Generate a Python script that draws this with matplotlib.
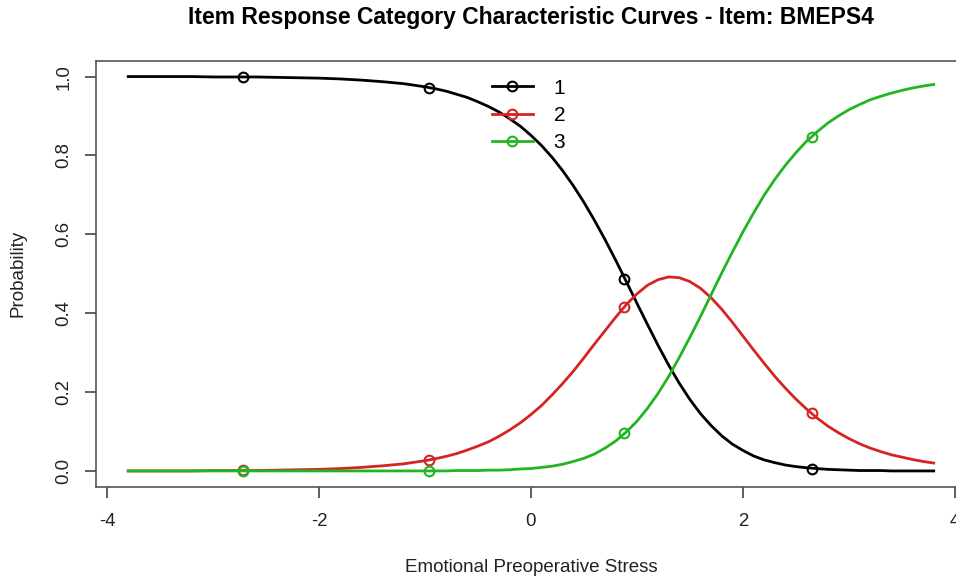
import matplotlib
matplotlib.use("Agg")
import matplotlib.pyplot as plt
from matplotlib.lines import Line2D

# ability grid
theta = [-3.8, -3.6, -3.4, -3.2, -3.0, -2.8, -2.6, -2.4, -2.2, -2.0,
         -1.8, -1.6, -1.4, -1.2,
         -1.0, -0.9, -0.8, -0.7, -0.6, -0.5, -0.4, -0.3, -0.2, -0.1,
         0.0, 0.1, 0.2, 0.3, 0.4, 0.5, 0.6, 0.7, 0.8, 0.9,
         1.0, 1.1, 1.2, 1.3, 1.4, 1.5, 1.6, 1.7, 1.8, 1.9,
         2.0, 2.1, 2.2, 2.3, 2.4, 2.5, 2.6, 2.7, 2.8, 2.9,
         3.0, 3.1, 3.2, 3.3, 3.4, 3.5, 3.6, 3.7, 3.8]

cat1 = [1.000, 1.000, 1.000, 1.000, 0.999, 0.999, 0.999, 0.998, 0.997, 0.996,
        0.994, 0.991, 0.987, 0.982,
        0.974, 0.969, 0.963, 0.955, 0.947, 0.936, 0.924, 0.910, 0.893, 0.874,
        0.851, 0.825, 0.795, 0.761, 0.723, 0.681, 0.635, 0.586, 0.534, 0.480,
        0.425, 0.371, 0.318, 0.268, 0.222, 0.181, 0.145, 0.115, 0.089, 0.068,
        0.052, 0.038, 0.028, 0.021, 0.015, 0.011, 0.008, 0.006, 0.004, 0.003,
        0.002, 0.001, 0.001, 0.001, 0.000, 0.000, 0.000, 0.000, 0.000]

cat2 = [0.000, 0.000, 0.000, 0.000, 0.001, 0.001, 0.001, 0.002, 0.003, 0.004,
        0.006, 0.009, 0.013, 0.018,
        0.026, 0.031, 0.037, 0.044, 0.053, 0.063, 0.074, 0.088, 0.104, 0.122,
        0.143, 0.166, 0.193, 0.222, 0.253, 0.287, 0.322, 0.356, 0.390, 0.422,
        0.449, 0.471, 0.485, 0.492, 0.490, 0.480, 0.463, 0.439, 0.410, 0.377,
        0.342, 0.307, 0.273, 0.240, 0.210, 0.182, 0.157, 0.134, 0.114, 0.097,
        0.082, 0.069, 0.058, 0.049, 0.041, 0.035, 0.029, 0.024, 0.020]

cat3 = [0.000, 0.000, 0.000, 0.000, 0.000, 0.000, 0.000, 0.000, 0.000, 0.000,
        0.000, 0.000, 0.000, 0.000,
        0.000, 0.000, 0.000, 0.001, 0.001, 0.001, 0.002, 0.002, 0.003, 0.005,
        0.006, 0.009, 0.012, 0.017, 0.024, 0.032, 0.043, 0.058, 0.076, 0.099,
        0.126, 0.159, 0.197, 0.240, 0.288, 0.339, 0.392, 0.447, 0.502, 0.555,
        0.606, 0.654, 0.699, 0.739, 0.775, 0.807, 0.836, 0.860, 0.882, 0.900,
        0.916, 0.929, 0.941, 0.950, 0.958, 0.965, 0.971, 0.976, 0.980]

# points marked with circles
mark_x = [-2.72, -0.96, 0.88, 2.65]
mark1 = [0.998, 0.970, 0.486, 0.006]
mark2 = [0.002, 0.028, 0.416, 0.146]
mark3 = [0.000, 0.000, 0.096, 0.846]

labels = ["1", "2", "3"]
colors = ["black", "#d42424", "#22b522"]

plt.rcParams["font.family"] = ["Liberation Sans", "DejaVu Sans"]
plt.rcParams["axes.unicode_minus"] = False

fig = plt.figure(figsize=(9.56, 5.79), dpi=100)
ax = fig.add_axes([0.1004, 0.1594, 0.910, 0.7356])

handles = []
for ys, ms, c, lab in zip([cat1, cat2, cat3], [mark1, mark2, mark3], colors, labels):
    ax.plot(theta, ys, color=c, linewidth=2.0)
    ax.plot(mark_x, ms, linestyle="none", marker="o", markerfacecolor="none",
            markeredgecolor=c, markeredgewidth=1.5, markersize=7)
    handles.append(Line2D([], [], color=c, linewidth=2.0, marker="o",
                          markerfacecolor="none", markeredgewidth=1.5,
                          markersize=7, label=lab))

ax.set_xlim(-4.104, 4.104)
ax.set_ylim(-0.04, 1.04)
ax.set_xticks([-4, -2, 0, 2, 4])
ax.set_yticks([0.0, 0.2, 0.4, 0.6, 0.8, 1.0])
ax.set_yticklabels(["0.0", "0.2", "0.4", "0.6", "0.8", "1.0"], rotation=90, va="center")
ax.tick_params(direction="out", length=8, width=1.1, color="#333333",
               labelsize=13.4, pad=9, labelcolor="#222222")
ax.tick_params(axis="x", pad=11)
for sp in ax.spines.values():
    sp.set_color("#555555")
    sp.set_linewidth(1.2)

ax.set_xlabel("Emotional Preoperative Stress", fontsize=13.5, color="#222222",
              va="baseline")
ax.xaxis.set_label_coords(0.5, -0.201)
ax.set_ylabel("Probability", fontsize=13.5, color="#222222", va="center")
ax.yaxis.set_label_coords(-0.0897, 0.5)

fig.text(0.555, 0.9585, "Item Response Category Characteristic Curves - Item: BMEPS4",
         ha="center", va="baseline", fontsize=16.5, fontweight="bold")

ax.legend(handles=handles, loc="upper left", bbox_to_anchor=(0.4335, 1.002),
          frameon=False, fontsize=15, handlelength=1.97, handletextpad=1.0,
          labelspacing=0.4, numpoints=1)

fig.savefig("out.png", dpi=100)
